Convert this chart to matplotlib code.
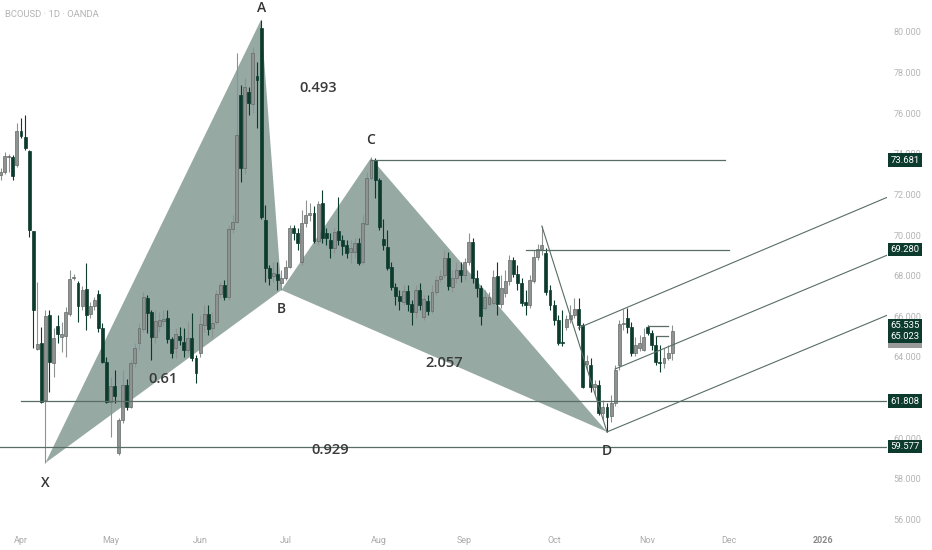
import numpy as np
import pandas as pd
import matplotlib.pyplot as plt
from matplotlib import transforms

# daily bars, BCOUSD (OANDA)
dates = pd.bdate_range('2025-03-25', '2025-11-11')
opens = [72.96, 73.10, 73.85, 73.84, 73.45, 75.12, 74.83, 74.14, 70.20, 64.40,
         64.68, 61.87, 66.06, 63.70, 65.52, 64.97, 65.02, 66.11, 67.90, 67.64,
         66.50, 67.34, 66.11, 66.50, 67.10, 65.42, 63.74, 61.77, 62.56, 59.26,
         60.89, 62.61, 61.53, 63.70, 64.68, 65.37, 66.90, 66.21, 64.97, 65.52,
         65.76, 65.91, 64.88, 64.43, 65.02, 64.73, 64.34, 64.93, 63.94, 64.19,
         65.57, 66.11, 65.42, 65.72, 67.09, 67.54, 66.95, 70.30, 70.64, 76.90,
         73.30, 77.04, 76.45, 77.83, 80.20, 70.74, 68.37, 67.98, 68.08, 67.64,
         67.88, 68.42, 70.35, 70.10, 68.67, 70.59, 70.99, 71.09, 69.70, 71.58,
         70.10, 69.75, 69.36, 70.20, 69.75, 69.51, 69.16, 69.16, 69.60, 68.67,
         70.54, 72.81, 73.69, 72.71, 69.80, 69.41, 68.42, 67.44, 67.00, 66.70,
         67.24, 66.60, 66.21, 67.29, 65.96, 66.75, 66.26, 67.19, 67.83, 68.03,
         68.87, 67.44, 67.88, 68.28, 68.03, 68.67, 69.65, 67.88, 67.39, 66.40,
         66.60, 66.65, 67.98, 66.60, 67.14, 67.73, 68.77, 68.08, 67.64, 66.70,
         66.55, 67.73, 68.92, 69.30, 69.11, 67.29, 66.55, 65.81, 64.73, 65.47,
         65.86, 66.06, 66.35, 65.57, 63.65, 63.60, 62.51, 62.61, 61.23, 61.53,
         61.08, 61.72, 63.60, 65.62, 65.91, 65.47, 64.19, 64.43, 64.34, 65.47,
         65.17, 64.58, 63.74, 63.70, 63.94, 64.19]
highs = [73.30, 74.10, 74.00, 73.95, 75.52, 75.76, 75.91, 74.19, 70.20, 67.68,
         65.47, 66.31, 66.30, 65.42, 66.06, 65.72, 66.45, 68.28, 68.10, 67.73,
         67.50, 68.62, 66.70, 66.95, 67.29, 65.67, 63.99, 63.00, 63.35, 61.00,
         63.35, 62.90, 63.84, 64.68, 65.67, 67.19, 67.04, 66.31, 66.30, 66.20,
         66.30, 66.31, 65.00, 65.42, 65.47, 65.40, 65.72, 66.16, 64.09, 66.06,
         66.55, 66.55, 66.20, 67.29, 67.68, 67.78, 70.49, 70.99, 78.97, 77.39,
         77.73, 77.30, 79.26, 78.50, 80.60, 71.48, 68.52, 68.67, 68.67, 68.28,
         68.77, 70.49, 70.49, 70.35, 71.23, 71.72, 71.60, 71.43, 71.68, 72.22,
         70.35, 70.10, 70.35, 71.87, 70.00, 69.75, 69.75, 69.85, 69.85, 71.00,
         73.10, 73.84, 73.80, 72.81, 70.80, 70.25, 68.67, 67.64, 67.29, 67.54,
         67.54, 66.80, 67.54, 67.64, 67.04, 67.04, 67.54, 67.98, 68.28, 69.26,
         69.16, 68.28, 68.67, 68.67, 68.87, 70.10, 69.85, 68.28, 67.54, 67.29,
         67.19, 68.28, 68.67, 68.03, 68.28, 69.02, 68.92, 68.52, 67.88, 67.29,
         68.03, 69.26, 69.56, 70.44, 69.36, 67.54, 66.80, 66.06, 66.31, 66.06,
         66.55, 66.90, 66.90, 65.67, 64.09, 63.94, 62.86, 62.86, 61.87, 61.72,
         62.12, 63.60, 65.81, 66.35, 66.40, 65.72, 64.97, 65.07, 65.42, 65.57,
         65.32, 65.02, 64.58, 64.43, 64.58, 65.57]
lows = [72.71, 73.00, 73.10, 72.71, 73.35, 74.78, 74.20, 69.90, 64.43, 64.34,
        61.70, 58.77, 62.27, 63.00, 64.68, 64.24, 63.99, 66.00, 67.80, 65.72,
        66.30, 65.32, 65.90, 66.30, 65.22, 63.70, 61.72, 60.05, 61.72, 59.16,
        60.74, 61.40, 61.48, 63.50, 64.34, 65.20, 65.17, 63.84, 64.68, 65.20,
        65.50, 64.68, 63.94, 63.94, 64.60, 63.99, 64.20, 63.80, 62.71, 64.00,
        65.20, 65.07, 64.93, 65.60, 66.90, 66.80, 66.80, 70.10, 70.60, 72.60,
        73.00, 75.91, 76.00, 75.27, 70.80, 67.68, 67.54, 67.68, 67.29, 67.29,
        67.78, 68.37, 69.75, 69.26, 68.52, 70.40, 70.70, 69.60, 69.51, 69.60,
        69.51, 68.87, 69.11, 69.51, 69.02, 68.87, 68.62, 68.87, 68.52, 68.57,
        70.49, 72.71, 71.82, 70.25, 69.26, 68.28, 67.29, 66.55, 66.31, 66.55,
        66.26, 65.57, 65.91, 66.31, 65.81, 66.05, 66.16, 67.04, 67.68, 67.88,
        67.30, 67.20, 67.64, 67.68, 67.78, 68.52, 67.64, 66.95, 65.57, 66.31,
        66.55, 66.55, 66.06, 66.40, 66.95, 67.54, 67.93, 67.29, 66.50, 66.06,
        66.40, 67.64, 68.77, 69.00, 67.04, 66.31, 65.57, 64.58, 64.53, 65.32,
        65.67, 65.91, 65.32, 62.46, 63.35, 62.27, 62.12, 61.13, 60.89, 60.30,
        60.79, 61.58, 63.35, 65.32, 65.17, 64.04, 64.04, 64.29, 64.29, 65.07,
        64.34, 63.60, 63.25, 63.45, 63.84, 63.84]
closes = [73.10, 73.90, 73.90, 72.91, 75.12, 74.88, 74.29, 70.25, 66.31, 64.65,
          61.77, 66.01, 63.74, 64.93, 65.12, 65.12, 66.21, 67.83, 67.95, 66.50,
          67.29, 66.06, 66.50, 66.80, 65.42, 63.74, 61.77, 62.56, 62.07, 60.89,
          62.61, 61.53, 63.70, 64.43, 65.42, 66.95, 66.16, 64.97, 65.76, 65.81,
          65.86, 64.88, 64.19, 65.12, 64.83, 64.34, 64.93, 63.94, 63.20, 65.62,
          66.11, 65.37, 65.67, 67.09, 67.54, 66.95, 70.30, 70.64, 74.93, 73.30,
          77.29, 76.50, 78.97, 77.64, 70.89, 68.37, 67.88, 68.13, 67.78, 67.88,
          68.42, 70.35, 70.10, 69.60, 70.59, 70.99, 71.09, 69.70, 71.53, 69.85,
          69.85, 69.36, 70.15, 69.75, 69.46, 69.11, 69.36, 69.60, 68.62, 70.59,
          72.81, 73.69, 72.71, 70.40, 69.51, 68.37, 67.44, 67.00, 66.75, 67.24,
          66.60, 66.21, 67.29, 66.55, 66.85, 66.26, 67.19, 67.78, 67.98, 68.87,
          67.50, 67.88, 68.28, 68.03, 68.67, 69.65, 67.88, 67.39, 66.01, 66.95,
          66.95, 67.93, 66.60, 67.39, 67.73, 68.77, 68.08, 67.64, 66.65, 66.55,
          67.78, 68.92, 69.31, 69.50, 67.19, 66.55, 65.81, 64.68, 64.68, 65.86,
          66.06, 66.35, 65.57, 62.51, 63.80, 62.51, 62.66, 61.23, 61.53, 61.04,
          61.72, 63.35, 65.62, 65.67, 65.47, 64.19, 64.58, 64.68, 64.97, 65.17,
          64.58, 63.74, 63.70, 63.94, 64.19, 65.27]

# XABCD pattern points
pat_names = ['X', 'A', 'B', 'C', 'D']
pat_dates = ['2025-04-09', '2025-06-23', '2025-06-30', '2025-07-30', '2025-10-20']
pat_prices = [58.77, 80.60, 67.29, 73.79, 60.30]
ratio_labels = ['0.61', '0.493', '2.057', '0.929']
ratio_dates = ['2025-05-20', '2025-07-11', '2025-08-25', '2025-07-16']
ratio_prices = [62.91, 77.24, 63.70, 59.41]

# horizontal levels: (start date, end date or None for right edge, price)
levels = [('2025-07-30', '2025-11-28', 73.681),
          ('2025-09-22', '2025-12-01', 69.280),
          ('2025-04-01', None, 61.808),
          (None, None, 59.577),
          ('2025-11-03', '2025-11-10', 65.535),
          ('2025-11-05', '2025-11-10', 65.023)]
# sloped lines: start date, start price, end date, end price
trend_lines = [('2025-09-26', 70.44, '2025-10-20', 60.30),
               ('2025-10-09', 65.42, '2026-01-23', 71.87),
               ('2025-10-22', 63.40, '2026-01-23', 69.02),
               ('2025-10-20', 60.30, '2026-01-23', 66.06)]
price_tags = [73.681, 69.280, 65.535, 65.023, 61.808, 59.577]

full_dates = pd.bdate_range('2025-03-25', '2026-02-27')
def pos(d):
    return full_dates.get_loc(pd.Timestamp(d))

o = np.array(opens); h = np.array(highs); l = np.array(lows); c = np.array(closes)
x = np.arange(len(dates))
up = c >= o

dark = '#0c3b2e'
grey = '#8e9391'
line_col = '#586d66'
fill_col = '#96a9a3'

fig = plt.figure(figsize=(9.32, 5.5), dpi=100)
ax = fig.add_axes([0, 0.04, 0.9517, 0.96])
ax.set_facecolor('white')

x0 = pos('2025-04-01')
ax.set_xlim(x0 - 5.16, x0 + 212.8)
ax.set_ylim(55.567, 81.576)

# pattern triangles
px = [pos(d) for d in pat_dates]
ax.fill([px[0], px[1], px[2]], [pat_prices[0], pat_prices[1], pat_prices[2]],
        color=fill_col, lw=0, zorder=1)
ax.fill([px[2], px[3], px[4]], [pat_prices[2], pat_prices[3], pat_prices[4]],
        color=fill_col, lw=0, zorder=1)

# candles
body_lo = np.minimum(o, c)
body_h = np.maximum(np.abs(c - o), 0.05)
ax.vlines(x[up], l[up], h[up], color=grey, lw=0.8, zorder=3)
ax.vlines(x[~up], l[~up], h[~up], color=dark, lw=0.8, zorder=3)
ax.bar(x[up], body_h[up], bottom=body_lo[up], width=0.72, color=grey,
       edgecolor='#646a68', linewidth=0.5, zorder=4)
ax.bar(x[~up], body_h[~up], bottom=body_lo[~up], width=0.72, color=dark,
       edgecolor=dark, linewidth=0.5, zorder=4)

# drawings
xmin, xmax = ax.get_xlim()
for s, e, p in levels:
    xs = pos(s) if s else xmin
    xe = pos(e) if e else xmax
    ax.plot([xs, xe], [p, p], color=line_col, lw=0.9, zorder=5)
for s, ps, e, pe in trend_lines:
    ax.plot([pos(s), pos(e)], [ps, pe], color=line_col, lw=0.8, zorder=5)

lbl_off = [(0, -1.0), (0, 0.6), (0, -0.95), (0, 0.9), (0, -0.95)]
for n, xi, p, (dx, dy) in zip(pat_names, px, pat_prices, lbl_off):
    ax.text(xi + dx, p + dy, n, ha='center', va='center', fontsize=10,
            family='Open Sans', fontweight='semibold', color='#333333', zorder=6)
for t, d, p in zip(ratio_labels, ratio_dates, ratio_prices):
    ax.text(pos(d), p, t, ha='center', va='center', fontsize=10.5,
            family='Open Sans', fontweight='semibold', color='#3a3a3a', zorder=6)

# axes styling
for sp in ax.spines.values():
    sp.set_visible(False)
ax.yaxis.tick_right()
ax.set_yticks(np.arange(56, 81, 2))
ax.set_yticklabels([f'{v:.3f}' for v in np.arange(56, 81, 2)])
ax.tick_params(axis='y', length=0, pad=4.5, labelsize=6.5, labelcolor='#b5b5b5')

months = full_dates[(full_dates >= '2025-04-01') & (full_dates < '2026-02-01')]
firsts = months.to_series().groupby([months.year, months.month]).min()
tick_pos = [pos(d) for d in firsts]
tick_lbl = [str(d.year) if d.month == 1 else d.strftime('%b') for d in firsts]
ax.set_xticks(tick_pos)
ax.set_xticklabels(tick_lbl)
ax.tick_params(axis='x', length=0, pad=6, labelsize=6.5, labelcolor='#aaaaaa')
for t in ax.get_xticklabels():
    t.set_family('Roboto')
    if t.get_text() == '2026':
        t.set_color('#8a8a8a')
        t.set_fontweight('bold')
for t in ax.get_yticklabels():
    t.set_family('Roboto')

# last price tag (mostly hidden) and level tags
trans = transforms.blended_transform_factory(ax.transAxes, ax.transData)
ax.text(1.0203, 64.78, '64.850', transform=trans, ha='center', va='center',
        fontsize=6.8, family='Roboto', color='#9a9a9a', clip_on=False, zorder=7,
        bbox=dict(boxstyle='square,pad=0.25', fc='#9a9a9a', ec='none'))
for p in price_tags:
    ax.text(1.0203, p, f'{p:.3f}', transform=trans, ha='center', va='center',
            fontsize=6.8, family='Roboto', color='white', clip_on=False, zorder=8,
            bbox=dict(boxstyle='square,pad=0.25', fc=dark, ec='none'))

fig.text(0.0055, 0.974, 'BCOUSD · 1D · OANDA', fontsize=6.8, family='Roboto',
         color='#b3b3b3', ha='left', va='center')

fig.savefig('out.png', dpi=100, facecolor='white')
